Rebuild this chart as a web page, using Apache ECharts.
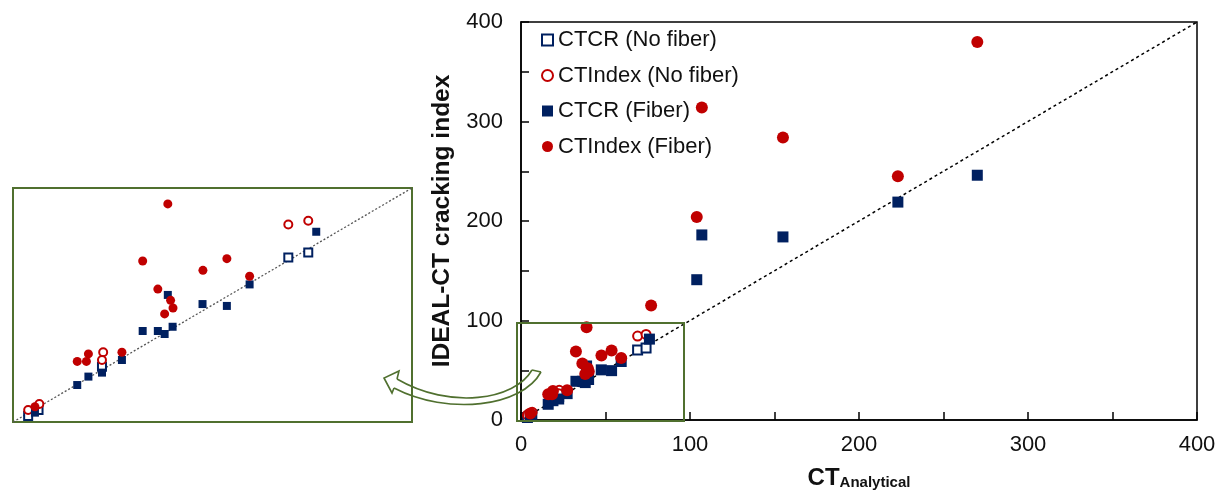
<!DOCTYPE html>
<html>
<head>
<meta charset="utf-8">
<title>IDEAL-CT cracking index</title>
<script src="https://cdn.jsdelivr.net/npm/echarts@6/dist/echarts.min.js"></script>
<style>
    html, body { margin: 0; padding: 0; background: #fff; }
    #chart { width: 1222px; height: 492px; }
</style>
</head>
<body>
<div id="chart"></div>
<script>
    // 图例名称
    var seriesNames = ['CTCR (No fiber)', 'CTIndex (No fiber)', 'CTCR (Fiber)', 'CTIndex (Fiber)'];
    // 坐标轴刻度标签
    var tickLabels = [0, 100, 200, 300, 400];
    // [CT_Analytical, IDEAL-CT index]
    var ctcrNoFiber = [[69, 70.3], [74, 72.4], [22.3, 23.6], [3.8, 2.6], [6.4, 5.1]];
    var ctIndexNoFiber = [[69, 84.4], [74, 86], [22.6, 29.8], [22.3, 26.5], [3.8, 5.1], [6.6, 7.7]];
    var ctcrFiber = [
        [104, 141], [107, 186], [155, 184], [223, 219], [270, 246],
        [76, 81.3], [59.3, 58.8], [53.6, 49.6], [47.5, 50.4], [38.8, 54.3],
        [32.5, 38.9], [36.3, 38.9], [38, 37.6], [40, 40.7], [27.3, 26.5],
        [18.9, 19.4], [16.1, 15.8], [22.3, 21.1], [5.5, 4]
    ];
    var ctIndexFiber = [
        [104, 204], [107, 314], [155, 284], [223, 245], [270, 380], [77, 115],
        [38.8, 93.2], [32.5, 68.8], [53.6, 69.8], [47.6, 64.8], [59.3, 62.3],
        [36.3, 56.8], [39.5, 52], [40.1, 48.7], [38, 46.2], [16.1, 25.9],
        [18.4, 25.9], [18.9, 29.1], [27.3, 29.8], [5.5, 6.5]
    ];
    // 1:1 线
    var equalityLine = [[0, 0], [400, 400]];
    var insetLine = [[0, 0], [100, 100]];

    var navy = '#002060';
    var red = '#c00000';
    var green = '#50702f';
    var font = 'Liberation Sans, Arial, sans-serif';

    //放大图只显示 0-100 的点
    function inInset(arr) {
        return arr.filter(function (p) { return p[0] <= 100 && p[1] <= 100; });
    }

    var styles = [
        { symbol: 'emptyRect', size: 9, border: 2, color: navy, data: ctcrNoFiber, insetSize: 8, insetBorder: 2 },
        { symbol: 'emptyCircle', size: 9, border: 2, color: red, data: ctIndexNoFiber, insetSize: 8, insetBorder: 2 },
        { symbol: 'rect', size: 11, border: 0, color: navy, data: ctcrFiber, insetSize: 8, insetBorder: 0 },
        { symbol: 'circle', size: 12, border: 0, color: red, data: ctIndexFiber, insetSize: 9, insetBorder: 0 }
    ];

    var series = [
        {
            type: 'line', data: equalityLine, symbol: 'none', silent: true,
            lineStyle: { color: '#000', width: 1.5, type: [3, 3] }, z: 1
        },
        {
            type: 'line', data: insetLine, symbol: 'none', silent: true,
            xAxisIndex: 1, yAxisIndex: 1,
            lineStyle: { color: '#555', width: 1.3, type: [2, 2] }, z: 1
        }
    ];
    styles.forEach(function (s, i) {
        series.push({
            name: seriesNames[i], type: 'scatter', symbol: s.symbol, symbolSize: s.size,
            data: s.data,
            itemStyle: { color: s.color, borderColor: s.color, borderWidth: s.border, opacity: 1 },
            z: 3
        });
        series.push({
            name: seriesNames[i], type: 'scatter', symbol: s.symbol, symbolSize: s.insetSize,
            xAxisIndex: 1, yAxisIndex: 1,
            data: inInset(s.data),
            itemStyle: { color: s.color, borderColor: s.color, borderWidth: s.insetBorder, opacity: 1 },
            z: 3
        });
    });

    function tickFormatter(v) {
        return tickLabels.indexOf(v) >= 0 ? String(v) : '';
    }

    var mainAxis = {
        type: 'value', min: 0, max: 400, interval: 50,
        splitLine: { show: false },
        axisLine: { show: true, lineStyle: { color: '#000', width: 1.5 } },
        axisTick: { show: true, inside: true, length: 8, lineStyle: { color: '#000', width: 1.5 } },
        axisLabel: { formatter: tickFormatter, fontSize: 22, fontFamily: font, color: '#111' }
    };

    var insetAxis = {
        type: 'value', min: 0, max: 100, show: false,
        gridIndex: 1, splitLine: { show: false }
    };

    var myChart = echarts.init(document.getElementById('chart'));
    myChart.setOption({
        animation: false,
        backgroundColor: '#fff',
        grid: [
            {
                left: 521, right: 25, top: 22, bottom: 72,
                outerBoundsMode: 'none',
                show: true, borderColor: '#000', borderWidth: 1.5
            },
            {
                left: 13, top: 188, width: 399, height: 234,
                outerBoundsMode: 'none',
                show: true, borderColor: green, borderWidth: 2, backgroundColor: '#fff'
            }
        ],
        legend: {
            data: seriesNames,
            orient: 'vertical',
            left: 536, top: 23,
            itemWidth: 11, itemHeight: 11, itemGap: 11.5,
            textStyle: { fontSize: 22, fontFamily: font, color: '#111', lineHeight: 24 }
        },
        xAxis: [
            Object.assign({}, mainAxis, {
                name: '{a|CT}{b|Analytical}',
                nameLocation: 'middle', nameGap: 46,
                nameTextStyle: {
                    rich: {
                        a: { fontSize: 24, fontWeight: 'bold', fontFamily: font, color: '#111', lineHeight: 24 },
                        b: { fontSize: 15, fontWeight: 'bold', fontFamily: font, color: '#111', lineHeight: 10, verticalAlign: 'bottom' }
                    }
                },
                axisLabel: { formatter: tickFormatter, fontSize: 22, fontFamily: font, color: '#111', margin: 14 }
            }),
            insetAxis
        ],
        yAxis: [
            Object.assign({}, mainAxis, {
                name: 'IDEAL-CT cracking index',
                nameLocation: 'middle', nameGap: 66,
                nameTextStyle: { fontSize: 24.5, fontWeight: 'bold', fontFamily: font, color: '#111' },
                axisLabel: { formatter: tickFormatter, fontSize: 22, fontFamily: font, color: '#111', margin: 18 }
            }),
            insetAxis
        ],
        series: series,
        graphic: [
            //放大区域框
            {
                type: 'rect', z: 10, silent: true,
                shape: { x: 517, y: 323, width: 167, height: 98 },
                style: { fill: null, stroke: green, lineWidth: 2 }
            },
            //弯曲箭头
            {
                type: 'bezierCurve', z: 10, silent: true,
                shape: { x1: 532, y1: 370, cpx1: 515, cpy1: 400, cpx2: 450, cpy2: 410, x2: 397, y2: 379 },
                style: { fill: null, stroke: green, lineWidth: 1.6 }
            },
            {
                type: 'bezierCurve', z: 10, silent: true,
                shape: { x1: 541, y1: 372, cpx1: 522, cpy1: 407, cpx2: 448, cpy2: 416, x2: 394, y2: 388 },
                style: { fill: null, stroke: green, lineWidth: 1.6 }
            },
            {
                type: 'polyline', z: 10, silent: true,
                shape: { points: [[397, 379], [399, 371], [384, 378], [392, 393], [394, 388]] },
                style: { fill: null, stroke: green, lineWidth: 1.6 }
            },
            {
                type: 'line', z: 10, silent: true,
                shape: { x1: 532, y1: 370, x2: 541, y2: 372 },
                style: { stroke: green, lineWidth: 1.6 }
            }
        ]
    });
</script>
</body>
</html>
